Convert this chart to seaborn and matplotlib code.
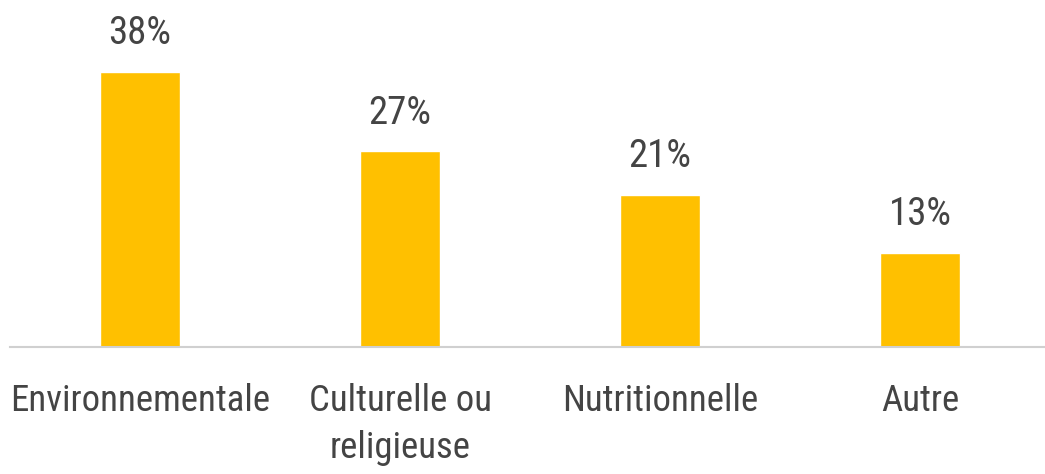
import matplotlib
matplotlib.use("Agg")
import matplotlib.pyplot as plt
from matplotlib import font_manager
import seaborn as sns
import pandas as pd

categories = ["Environnementale", "Culturelle ou\nreligieuse", "Nutritionnelle", "Autre"]
values = [38, 27, 21, 13]
labels = ["38%", "27%", "21%", "13%"]

sns.set_style("white")
names = {f.name for f in font_manager.fontManager.ttflist}
cands = ["Liberation Sans Narrow", "DejaVu Sans Condensed", "Roboto Condensed", "Open Sans Condensed"]
fam = next((c for c in cands if c in names), None)
if fam is None:
    fam = "DejaVu Sans"
    size, psize = 21, 21
else:
    size, psize = 26.5, 28
plt.rcParams["font.family"] = [fam, "DejaVu Sans"]

df = pd.DataFrame({"cat": categories, "val": values})

fig = plt.figure(figsize=(10.45, 4.74), dpi=100)
ax = fig.add_axes([10/1045, 127/474, 1 - 10/1045, 347/474])
sns.barplot(data=df, x="cat", y="val", color="#FFC000", saturation=1, width=0.31, ax=ax)
for i, (v, t) in enumerate(zip(values, labels)):
    ax.text(i, v + 2.7, t, ha="center", va="bottom", fontsize=psize, color="#444444")
ax.set_xlim(-0.5, 3.48)
ax.set_ylim(0, 47.9)
ax.set_xlabel("")
ax.set_ylabel("")
ax.set_yticks([])
ax.tick_params(axis="x", length=0, labelsize=size, labelcolor="#444444", pad=26)
for lab in ax.get_xticklabels():
    lab.set_linespacing(1.4)
for s in ["top", "right", "left"]:
    ax.spines[s].set_visible(False)
ax.spines["bottom"].set_color("#d0d0d0")
ax.spines["bottom"].set_linewidth(1.5)
fig.savefig("out.png", dpi=100)
